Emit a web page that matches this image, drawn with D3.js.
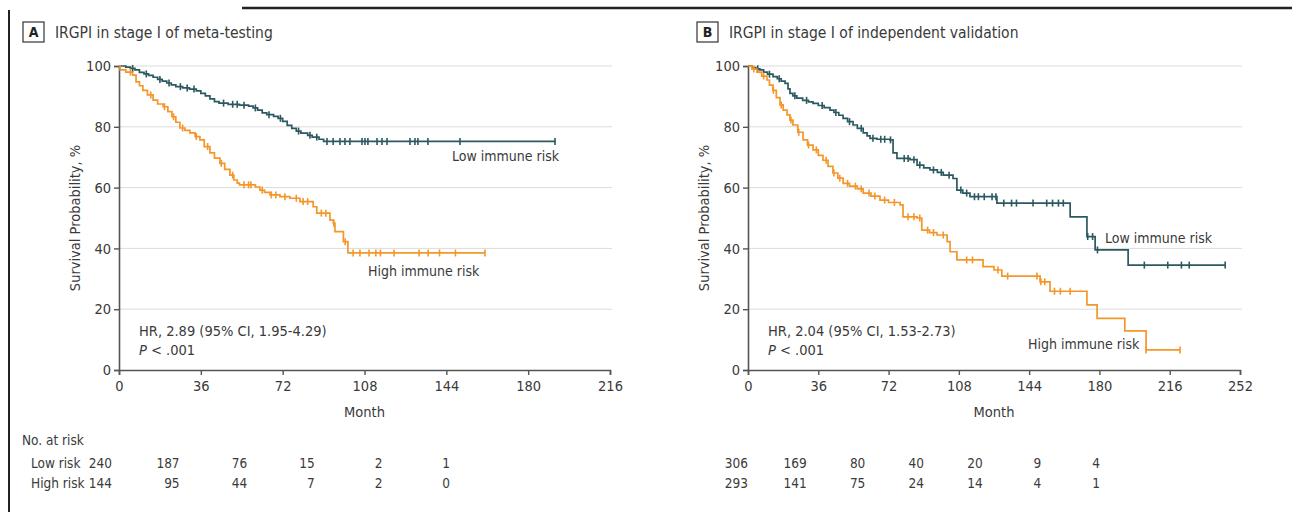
<!DOCTYPE html>
<html><head><meta charset="utf-8">
<script src="https://cdn.jsdelivr.net/npm/d3@7"></script>
<style>
html,body{margin:0;padding:0;background:#fff;}
svg{display:block;font-family:"Liberation Sans Narrow","DejaVu Sans Condensed","Arial Narrow",sans-serif;}
</style></head>
<body>
<svg id="c" width="1292" height="512"></svg>
<script>
// ---------- data ----------
const yTicks = [0, 20, 40, 60, 80, 100];
const xTicksA = [0, 36, 72, 108, 144, 180, 216];
const xTicksB = [0, 36, 72, 108, 144, 180, 216, 252];

// Panel A: step points [month, survival %]
const aLow = [[0,100],[3,99.6],[5,99.2],[7,98.7],[9,97.9],[11,97.4],[13,96.9],[15,96.3],[17,95.6],[19,95.0],[21,94.4],[23,93.8],[25,93.2],[28,92.8],[31,92.4],[34,91.8],[36,91.0],[38,90.2],[40,89.2],[42,88.3],[44,87.8],[48,87.4],[53,87.1],[57,86.8],[59,86.2],[61,85.5],[63,84.6],[65,84.0],[68,83.4],[70,82.8],[72,81.8],[74,80.5],[76,79.5],[78,78.6],[80,77.9],[83,77.2],[85,76.6],[88,75.9],[90,75.2],[192,75.2]];
const aLowCens = [6,12,18,22,27,30,33,46,50,52,55,60,66,71,79,84,87,91.5,94.2,97.2,99.4,101.6,106.9,108.2,109.5,113.5,115.7,117.9,128,130.2,131.5,135.9,150,191.8];
const aHigh = [[0,100],[0.5,98.7],[3,98.0],[6,97],[7.5,94.8],[9,93.5],[10.5,92],[12.5,90.5],[15,88.8],[17,87.5],[19.4,86.6],[21.5,85],[23.3,83.3],[25,81.5],[26.8,79.6],[29,78.8],[31.2,78],[33.5,76.8],[35.6,75.7],[37.5,73.5],[40,71.4],[42,69.7],[44.4,68],[46.5,66],[48.8,64.1],[50.5,62.5],[52,61.5],[53,60.9],[60,60.2],[62,59.2],[64,58.4],[66.4,57.6],[70.8,57],[75.2,56.5],[79.6,55.4],[85.4,53.7],[87,51.6],[92.8,49.3],[94.3,48.3],[95,45.5],[98.7,42.2],[100.7,38.5],[161,38.5]];
const aHighCens = [5,14,20,24,28,34,39,45,50,55,57,58,63,67,69,73,78,81,83,89,91,94.5,99.5,103,106,110,113,115,121,132,136,141,148,161];

// Panel B
const bLow = [[0,100],[2,99.5],[4,99.1],[6.1,98.7],[8,98],[10,97.3],[12.8,96.5],[15,95.8],[17,95],[19,94.3],[20.5,92.5],[21.5,91],[23,90.2],[25,89.4],[28,88.7],[31,88.2],[33.3,87.7],[36,87],[39,86.3],[42,85.5],[44,84.7],[46.5,83.8],[48.7,82.8],[51,81.7],[53.8,80.6],[56,79.5],[59,78],[61,77],[62.5,76.2],[66,75.9],[72.7,75.7],[74.3,71.4],[76.3,69.6],[83,69.2],[86.6,67.4],[90,66.5],[93.2,65.8],[97,65],[100,64.1],[105,63],[107,59.2],[110,58.2],[113.7,57],[127.5,54.9],[165,50.4],[173.6,43.9],[177.8,39.5],[194.7,34.5],[244.4,34.5]];
const bLowCens = [5,11,16,24,30,38,45,52,58,64,68,70,73,80,82,85,88,95,99,103,109,112,116,118,121,125,127,131,135,137.5,146,153,156,159,161.5,174,176.5,179,203,215,222,226,244.4];
const bHigh = [[0,100],[2,99],[4.6,98],[7,96.7],[9.7,95.4],[11,93.7],[12.8,92],[14.5,89.6],[16.4,87.2],[18,85.5],[20,83.9],[21.5,82.2],[23,80.6],[25.5,78.2],[28.2,75.7],[30.5,74],[33.3,72.4],[36,70.6],[38.4,69],[41,67],[43.5,64.8],[46,63.1],[48.7,61.4],[52,60.5],[56,59.6],[59,58.2],[63,57.2],[67.6,55.9],[72,55.1],[77.9,54.3],[79.4,50.4],[86.6,50],[89,46],[93,45.2],[96.8,44.4],[102,42.2],[103.5,38.9],[107,36.2],[120.4,34],[126,32.9],[130,30.9],[149.6,29],[154.7,25.9],[173.6,21.4],[178.8,17],[193,12.9],[203.9,6.6],[221.3,6.6]];
const bHighCens = [3,8,13,17,22,26,31,35,40,44,47,51,55,58,62,65,70,75,82,85,88,92,95,100,112,115,128,133,148,150,152,157,160,165,203.9,221.3];

const riskRows = ["Low risk", "High risk"];
const riskA = [[240,187,76,15,2,1],[144,95,44,7,2,0]];
const riskB = [[306,169,80,40,20,9,4],[293,141,75,24,14,4,1]];

const colLow = "#2c5961", colHigh = "#f5962a";
const textCol = "#3a3a3a", axisCol = "#555";

// ---------- drawing ----------
const svg = d3.select("#c");

// frame lines
svg.append("line").attr("x1",9).attr("x2",9).attr("y1",10).attr("y2",512).attr("stroke","#222").attr("stroke-width",2);
svg.append("line").attr("x1",242).attr("x2",1292).attr("y1",8).attr("y2",8).attr("stroke","#222").attr("stroke-width",2.5);

function stepAt(data, t){
  let v = data[0][1];
  for (const d of data){ if (d[0] <= t) v = d[1]; else break; }
  return v;
}

function panel(cfg){
  const g = svg.append("g");
  const x = d3.scaleLinear().domain(cfg.xDomain).range(cfg.xRange);
  const y = d3.scaleLinear().domain([0,100]).range([370,66]);

  // label box + title
  g.append("rect").attr("x",cfg.boxX).attr("y",22).attr("width",21).attr("height",20)
    .attr("fill","none").attr("stroke","#333").attr("stroke-width",1.2);
  g.append("text").attr("x",cfg.boxX+10.5).attr("y",37).attr("text-anchor","middle")
    .attr("font-weight","bold").attr("font-size",14).attr("fill","#222").text(cfg.letter);
  g.append("text").attr("x",cfg.boxX+32).attr("y",38).attr("font-size",15.5).attr("fill",textCol).text(cfg.title);

  // grid
  g.selectAll(".grid").data(yTicks.filter(d=>d>0)).join("line")
    .attr("x1",cfg.xRange[0]).attr("x2",cfg.xRange[1]+2)
    .attr("y1",d=>y(d)).attr("y2",d=>y(d)).attr("stroke","#dcdcdc").attr("stroke-width",1);

  // axes
  const ax = g.append("g").attr("transform","translate(0,370)")
    .call(d3.axisBottom(x).tickValues(cfg.xTicks).tickSize(5).tickPadding(6));
  const ay = g.append("g").attr("transform",`translate(${cfg.xRange[0]},0)`)
    .call(d3.axisLeft(y).tickValues(yTicks).tickSize(5).tickPadding(3));
  [ax,ay].forEach(a=>{
    a.select(".domain").attr("stroke",axisCol).attr("stroke-width",1.6);
    a.selectAll(".tick line").attr("stroke",axisCol).attr("stroke-width",1.4);
    a.selectAll(".tick text").attr("fill",textCol).attr("font-size",14.5)
      .attr("font-family","Liberation Sans Narrow, DejaVu Sans Condensed, sans-serif");
  });

  g.append("text").attr("x",x(cfg.xDomain[1]/2)).attr("y",417).attr("text-anchor","middle")
    .attr("font-size",14.5).attr("fill",textCol).text("Month");
  g.append("text").attr("transform",`translate(${cfg.yLabX},218) rotate(-90)`).attr("text-anchor","middle")
    .attr("font-size",14.5).attr("fill",textCol).text("Survival Probability, %");

  // curves
  const line = d3.line().x(d=>x(d[0])).y(d=>y(d[1])).curve(d3.curveStepAfter);
  cfg.series.forEach(s=>{
    g.append("path").datum(s.data).attr("d",line).attr("fill","none")
      .attr("stroke",s.color).attr("stroke-width",1.7);
    g.selectAll(null).data(s.cens).join("line")
      .attr("x1",d=>x(d)).attr("x2",d=>x(d))
      .attr("y1",d=>y(stepAt(s.data,d))-3.5).attr("y2",d=>y(stepAt(s.data,d))+3.5)
      .attr("stroke",s.color).attr("stroke-width",1.6);
    g.append("text").attr("x",s.labX).attr("y",s.labY).attr("font-size",14)
      .attr("fill",textCol).text(s.label);
  });

  // HR text
  g.append("text").attr("x",cfg.xRange[0]+20).attr("y",336).attr("font-size",14.5).attr("fill",textCol).text(cfg.hr);
  const pt = g.append("text").attr("x",cfg.xRange[0]+20).attr("y",355).attr("font-size",14.5).attr("fill",textCol);
  pt.append("tspan").attr("font-style","italic").text("P");
  pt.append("tspan").text(" < .001");

  // risk table
  const cx = d3.scaleLinear().domain([0, cfg.risk[0].length-1]).range(cfg.tableRange);
  cfg.risk.forEach((row,i)=>{
    g.selectAll(null).data(row).join("text")
      .attr("x",(d,j)=>cx(j)).attr("y",468+i*20).attr("text-anchor","end")
      .attr("font-size",13.5).attr("fill",textCol).text(d=>d);
  });
}

panel({letter:"A", boxX:23, title:"IRGPI in stage I of meta-testing",
  xDomain:[0,216], xRange:[119,610], xTicks:xTicksA, yLabX:80,
  hr:"HR, 2.89 (95% CI, 1.95-4.29)", risk:riskA, tableRange:[112,450],
  series:[
    {data:aLow, cens:aLowCens, color:colLow, label:"Low immune risk", labX:452, labY:161},
    {data:aHigh, cens:aHighCens, color:colHigh, label:"High immune risk", labX:368, labY:276}
  ]});
panel({letter:"B", boxX:697, title:"IRGPI in stage I of independent validation",
  xDomain:[0,252], xRange:[748,1240], xTicks:xTicksB, yLabX:709,
  hr:"HR, 2.04 (95% CI, 1.53-2.73)", risk:riskB, tableRange:[748,1100],
  series:[
    {data:bLow, cens:bLowCens, color:colLow, label:"Low immune risk", labX:1105, labY:243},
    {data:bHigh, cens:bHighCens, color:colHigh, label:"High immune risk", labX:1028, labY:349}
  ]});

// table row labels
svg.append("text").attr("x",22).attr("y",445).attr("font-size",13.5).attr("fill",textCol).text("No. at risk");
svg.selectAll(".rl").data(riskRows).join("text").attr("x",31).attr("y",(d,i)=>468+i*20)
  .attr("font-size",13.5).attr("fill",textCol).text(d=>d);
</script>
</body></html>
